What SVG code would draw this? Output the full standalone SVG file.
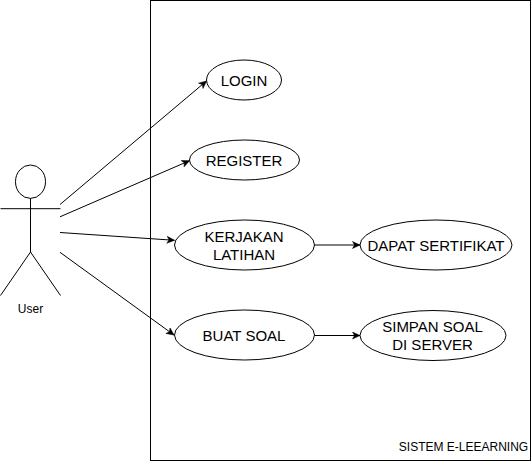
<svg xmlns="http://www.w3.org/2000/svg" width="532" height="461" viewBox="0 0 532 461">
<style>
.s{fill:#fff;stroke:#000;stroke-width:1}
.l{fill:none;stroke:#000;stroke-width:1}
.c{fill:none;stroke:#000;stroke-width:1;marker-end:url(#a)}
text{font-family:"Liberation Sans",Arial,sans-serif;font-size:15px;fill:#000;text-anchor:middle}
.sm{font-size:12px}
</style>
<defs><marker id="a" markerUnits="userSpaceOnUse" markerWidth="10" markerHeight="10" refX="8" refY="4" orient="auto"><path d="M0.500 0.500L8 4L0.500 7.500L2.500 4Z" fill="#000" stroke="#000" stroke-width="0.5"/></marker></defs>
<rect width="532" height="461" fill="#fff"/>
<g id="boundary"><rect class="s" x="150.500" y="0.500" width="380" height="460"/><text class="sm" x="463.500" y="451">SISTEM E-LEEARNING</text></g>
<g id="actor"><ellipse class="s" cx="30.500" cy="181.700" rx="15" ry="16.700"/><path class="l" d="M30.500 198.400V252M0.500 208.700H60.500M30.500 252L0.500 295.500M30.500 252L60.500 295.500"/><text class="sm" x="30.500" y="313">User</text></g>
<g id="connectors">
<path class="c" d="M60 204.500L206.500 81"/>
<path class="c" d="M60 216.800L189.500 160.700"/>
<path class="c" d="M60 232.500L174.500 240.300"/>
<path class="c" d="M60 252.300L174 335"/>
<path class="c" d="M314.500 245H360"/>
<path class="c" d="M314.500 335.500H360"/>
</g>
<g id="login"><ellipse class="s" cx="244" cy="80" rx="37.500" ry="20"/><text x="244" y="86">LOGIN</text></g>
<g id="register"><ellipse class="s" cx="244.500" cy="160" rx="55" ry="20"/><text x="244" y="166">REGISTER</text></g>
<g id="kerjakan"><ellipse class="s" cx="244.500" cy="245" rx="70" ry="25"/><text x="244" y="242">KERJAKAN</text><text x="244" y="260">LATIHAN</text></g>
<g id="sertifikat"><ellipse class="s" cx="436" cy="245" rx="76" ry="25"/><text x="436" y="251">DAPAT SERTIFIKAT</text></g>
<g id="buat"><ellipse class="s" cx="244.500" cy="335" rx="70" ry="25"/><text x="244" y="341">BUAT SOAL</text></g>
<g id="simpan"><ellipse class="s" cx="433" cy="335.500" rx="73" ry="25"/><text x="432.500" y="332">SIMPAN SOAL</text><text x="432.500" y="350">DI SERVER</text></g>
</svg>
